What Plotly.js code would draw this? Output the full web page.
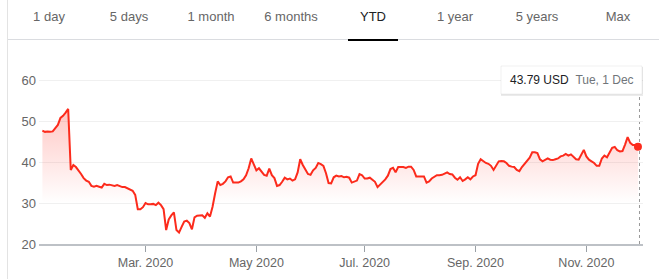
<!DOCTYPE html>
<html>
<head>
<meta charset="utf-8">
<script src="https://cdn.plot.ly/plotly-3.0.1.min.js"></script>
<style>
  html, body { margin: 0; padding: 0; background: #fff; }
  #wrap { position: relative; width: 659px; height: 279px; overflow: hidden; font-family: "Liberation Sans", Arial, sans-serif; }
  #chart { position: absolute; left: 0; top: 0; width: 659px; height: 279px; }
  .tab { position: absolute; top: 9px; font-size: 13px; color: #666; transform: translateX(-50%); white-space: nowrap; line-height: 16px; }
  .tab.active { color: #202124; }
  #sep { position: absolute; left: 8px; right: 0; top: 39px; height: 1px; background: #dadce0; }
  #under { position: absolute; left: 348px; width: 50px; top: 39px; height: 2px; background: #000; }
  #lborder { position: absolute; left: 7px; top: 0; bottom: 0; width: 1px; background: #e3e3e3; }
</style>
</head>
<body>
<div id="wrap">
  <div id="chart"></div>
  <div id="lborder"></div>
  <div id="sep"></div>
  <div id="under"></div>
  <div id="tabs"></div>
</div>
<script>
// ---- data ----
const tabLabels = ["1 day", "5 days", "1 month", "6 months", "YTD", "1 year", "5 years", "Max"];
const tabCenters = [49, 129, 211, 291, 373, 455, 537, 618];
const activeTab = "YTD";

const closePrices = [
  47.7, 47.4, 47.5, 47.4, 47.5, 48.3, 49.1, 50.8, 51.3, 52.1,
  53.0, 38.1, 39.3, 38.8, 38.0, 37.1, 36.1, 35.5, 35.2, 34.2,
  34.0, 34.2, 34.0, 33.8, 34.7, 34.4, 34.5, 34.4, 34.2, 34.4,
  34.2, 33.9, 33.9, 33.6, 33.4, 33.0, 32.0, 28.5, 28.5, 29.0,
  30.0, 29.7, 29.7, 29.8, 29.5, 30.1, 29.5, 28.5, 23.4, 26.0,
  27.0, 27.7, 23.4, 22.8, 24.2, 25.5, 25.7, 25.1, 23.6, 26.5,
  26.9, 27.0, 27.0, 26.4, 27.5, 26.7, 29.1, 32.4, 35.3, 34.4,
  34.7, 35.3, 36.3, 36.5, 35.0, 35.0, 35.0, 35.3, 35.8, 36.8,
  38.5, 40.9, 39.6, 38.0, 38.5, 37.6, 36.9, 36.7, 38.4, 36.8,
  36.1, 34.2, 34.4, 35.2, 36.2, 35.8, 36.0, 35.5, 35.8, 37.5,
  40.7, 39.3, 38.0, 37.1, 36.9, 38.0, 38.6, 39.8, 39.5, 39.1,
  37.3, 34.9, 34.8, 36.3, 36.7, 36.5, 36.6, 36.3, 36.4, 36.2,
  35.0, 35.3, 35.5, 37.1, 36.8, 36.0, 36.0, 36.2, 35.7, 35.2,
  33.9, 34.5, 35.3, 35.8, 36.7, 38.3, 38.6, 37.5, 38.8, 38.8,
  38.8, 38.6, 38.9, 38.9, 38.1, 36.5, 36.5, 36.4, 36.5, 35.0,
  35.3, 36.0, 36.4, 36.8, 36.8, 36.9, 37.2, 37.5, 37.1, 37.0,
  36.2, 35.7, 36.3, 35.4, 35.8, 36.3, 35.8, 36.5, 36.8, 39.6,
  40.7, 40.2, 39.8, 39.6, 39.1, 38.1, 39.3, 40.2, 40.3, 40.2,
  39.8, 39.1, 38.9, 38.8, 38.1, 37.8, 38.8, 39.5, 40.2, 41.1,
  42.4, 42.4, 42.2, 40.7, 40.2, 40.6, 40.9, 40.6, 40.5, 40.7,
  40.9, 41.4, 41.6, 42.0, 41.6, 41.9, 41.4, 40.7, 40.6, 41.8,
  43.0, 41.4, 40.6, 40.2, 39.8, 39.1, 39.1, 40.9, 41.6, 41.2,
  42.2, 43.5, 43.7, 42.9, 42.6, 42.7, 44.3, 46.1, 44.7, 44.2,
  44.2, 43.79
];
// trading-day index of the first session of each labelled month
const tickIndex = [40, 83, 125, 168, 211];
const tickLabels = ["Mar. 2020", "May 2020", "Jul. 2020", "Sep. 2020", "Nov. 2020"];
const yTicks = [20, 30, 40, 50, 60];
const lastPriceText = "43.79 USD";
const lastDateText = "Tue, 1 Dec";

// ---- tabs ----
const tabsEl = document.getElementById("tabs");
tabLabels.forEach((t, k) => {
  const d = document.createElement("div");
  d.className = "tab" + (t === activeTab ? " active" : "");
  d.style.left = tabCenters[k] + "px";
  d.textContent = t;
  tabsEl.appendChild(d);
});

// ---- chart ----
const W = 659, H = 279;
const M = { l: 39, r: 16, t: 68, b: 35 };
const PW = W - M.l - M.r, PH = H - M.t - M.b;
const px2x = px => (px - M.l) / PW;
const px2y = py => (H - M.b - py) / PH;

const xs = closePrices.map((_, i) => i);
const lastI = xs.length - 1;
const red = "#fc2b1c";

const traces = [
  {
    x: xs, y: closePrices, type: "scatter", mode: "lines",
    line: { color: red, width: 2 },
    fill: "tozeroy",
    fillgradient: {
      type: "vertical",
      start: 30, stop: 54,
      colorscale: [[0, "rgba(255,60,50,0)"], [1, "rgba(255,60,50,0.3)"]]
    },
    hoverinfo: "skip"
  },
  {
    x: [xs[lastI]], y: [closePrices[lastI]], type: "scatter", mode: "markers",
    marker: { color: red, size: 8 }, hoverinfo: "skip"
  }
];

const boxL = 501, boxR = 642, boxT = 66, boxB = 94;

const layout = {
  width: W, height: H,
  margin: M,
  paper_bgcolor: "rgba(0,0,0,0)",
  plot_bgcolor: "rgba(0,0,0,0)",
  showlegend: false,
  font: { family: "Liberation Sans, Arial, sans-serif", color: "#666" },
  xaxis: {
    range: [-1.32, 232.96],
    tickmode: "array", tickvals: tickIndex, ticktext: tickLabels,
    ticks: "outside", ticklen: 6, tickwidth: 1, tickcolor: "#9aa0a6",
    showline: true, linecolor: "#bdc1c6", linewidth: 2,
    showgrid: false, zeroline: false,
    tickfont: { size: 12.5, color: "#666" }
  },
  yaxis: {
    range: [20, 63],
    tickmode: "array", tickvals: yTicks,
    showgrid: true, gridcolor: "#f0f0f0", gridwidth: 1,
    zeroline: false, showline: false, ticks: "",
    tickfont: { size: 13, color: "#666" },
    ticklabelstandoff: 2
  },
  shapes: [
    {
      type: "line", xref: "x", yref: "paper",
      x0: xs[lastI] + 0.6, x1: xs[lastI] + 0.6, y0: 0, y1: px2y(boxB),
      line: { color: "#999", width: 1, dash: "dot" }, layer: "below"
    },
    {
      type: "rect", xref: "paper", yref: "paper",
      x0: px2x(boxL), x1: px2x(boxR + 1), y0: px2y(boxB + 2), y1: px2y(boxT + 1),
      fillcolor: "rgba(0,0,0,0.08)", line: { width: 0 }
    },
    {
      type: "rect", xref: "paper", yref: "paper",
      x0: px2x(boxL), x1: px2x(boxR), y0: px2y(boxB), y1: px2y(boxT),
      fillcolor: "#ffffff", line: { color: "rgba(0,0,0,0.06)", width: 1 }
    }
  ],
  annotations: [
    {
      xref: "paper", yref: "paper",
      x: px2x((boxL + boxR) / 2), y: px2y((boxT + boxB) / 2),
      xanchor: "center", yanchor: "middle",
      showarrow: false,
      text: '<span style="color:#202124">' + lastPriceText + '\u00a0\u00a0</span><span style="color:#70757a">' + lastDateText + '</span>',
      font: { size: 12, family: "Liberation Sans, Arial, sans-serif" }
    }
  ]
};

Plotly.newPlot("chart", traces, layout, { displayModeBar: false, staticPlot: true });
</script>
</body>
</html>
